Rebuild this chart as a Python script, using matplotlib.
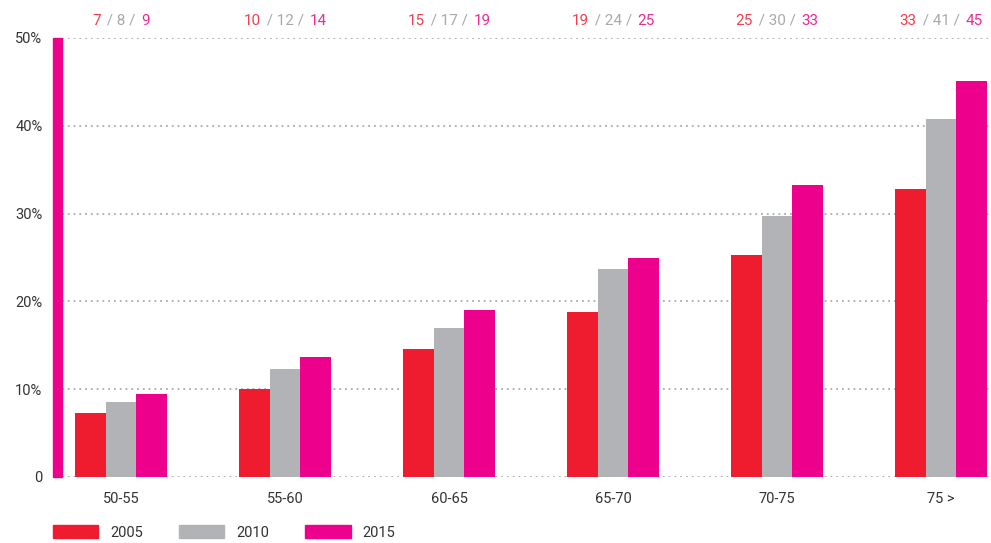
import matplotlib
matplotlib.use("Agg")
import matplotlib.pyplot as plt
from matplotlib.patches import Rectangle, Patch
import numpy as np

categories = ["50-55", "55-60", "60-65", "65-70", "70-75", "75 >"]
years = ["2005", "2010", "2015"]
v2005 = [7.3, 10.0, 14.6, 18.8, 25.3, 32.8]
v2010 = [8.5, 12.3, 17.0, 23.7, 29.7, 40.8]
v2015 = [9.4, 13.7, 19.0, 24.9, 33.3, 45.1]
lab2005 = ["7", "10", "15", "19", "25", "33"]
lab2010 = ["8", "12", "17", "24", "30", "41"]
lab2015 = ["9", "14", "19", "25", "33", "45"]
yticks = [0, 10, 20, 30, 40, 50]
ytick_labels = ["0", "10%", "20%", "30%", "40%", "50%"]

RED = "#EE1C2E"
GRAY = "#B1B3B6"
PINK = "#EC008C"
TXT = "#333333"

plt.rcParams['font.family'] = ['Roboto', 'DejaVu Sans']

W, H = 991, 543
fig = plt.figure(figsize=(W / 100, H / 100), dpi=100)
ax = fig.add_axes([62 / W, 66 / H, (W - 62) / W, (505 - 66) / H])

x = np.arange(len(categories))
bw = 0.186
ax.bar(x - bw, v2005, bw, color=RED, zorder=3)
ax.bar(x, v2010, bw, color=GRAY, zorder=3)
ax.bar(x + bw, v2015, bw, color=PINK, zorder=3)

ax.set_xlim(-0.36, 5.305)
ax.set_ylim(0, 50)
for s in ax.spines.values():
    s.set_visible(False)
ax.set_yticks(yticks)
ax.set_yticklabels(ytick_labels)
ax.set_xticks(x)
ax.set_xticklabels(categories)
ax.tick_params(axis='both', length=0, labelsize=10.5, colors=TXT)
ax.tick_params(axis='y', pad=14)
ax.tick_params(axis='x', pad=11)
ax.grid(axis='y', color="#AAAAAA", linestyle=(0, (1, 2.2)), linewidth=1.3, zorder=0)
ax.set_axisbelow(True)

# Pink vertical bar at left acting as axis
axw = W - 62
ax.add_patch(Rectangle((-9 / axw, 0), 9 / axw, 1, transform=ax.transAxes,
                       color=PINK, clip_on=False, zorder=4))

# Top labels
fig.canvas.draw()
r = fig.canvas.get_renderer()
ytop = 1 + 17 / 439
fs_top = 11
for i in range(len(categories)):
    mid = ax.text(x[i], ytop, " / " + lab2010[i] + " / ", color="#A7A9AC",
                  fontsize=fs_top, ha='center', va='center',
                  transform=ax.get_xaxis_transform())
    bb = mid.get_window_extent(renderer=r)
    half = bb.width / 2 + 2
    ax.annotate(lab2005[i], xy=(x[i], ytop), xycoords=ax.get_xaxis_transform(),
                xytext=(-half * 72 / 100, 0), textcoords='offset points',
                color="#F0404E", fontsize=fs_top, ha='right', va='center')
    ax.annotate(lab2015[i], xy=(x[i], ytop), xycoords=ax.get_xaxis_transform(),
                xytext=(half * 72 / 100, 0), textcoords='offset points',
                color="#EE2A95", fontsize=fs_top, ha='left', va='center')

handles = [Patch(color=RED), Patch(color=GRAY), Patch(color=PINK)]
fig.legend(handles, years, loc='lower left', bbox_to_anchor=(40 / W, -10 / H),
           ncol=3, frameon=False, fontsize=10.5, handlelength=3.1,
           handleheight=1.0, columnspacing=2.5, handletextpad=0.8,
           labelcolor=TXT)

fig.savefig("out.png", dpi=100)
